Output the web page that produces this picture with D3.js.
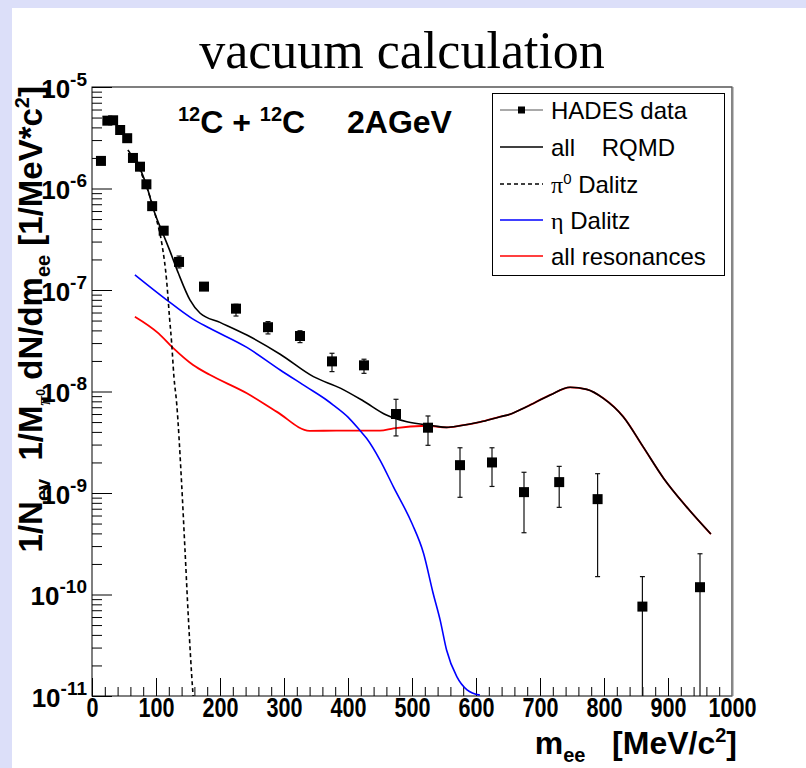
<!DOCTYPE html>
<html>
<head>
<meta charset="utf-8">
<script src="https://cdn.jsdelivr.net/npm/d3@7"></script>
<style>
  html, body { margin: 0; padding: 0; background: #ffffff; }
  svg { display: block; }
</style>
</head>
<body>
<svg id="chart" width="806" height="768"></svg>
<script>
// ---------------- data ----------------
const hadesMass  = [14, 24, 33, 44, 55, 64, 75, 85, 94, 112, 136, 175, 225, 275, 325, 375, 425, 475, 525, 575, 625, 675, 730, 790, 860, 950];
const hadesYield = [1.87e-6, 4.66e-6, 4.7e-6, 3.77e-6, 3.13e-6, 2.0e-6, 1.64e-6, 1.1e-6, 6.7e-7, 3.84e-7, 1.89e-7, 1.08e-7, 6.55e-8, 4.3e-8, 3.52e-8, 1.98e-8, 1.81e-8, 6.0e-9, 4.4e-9, 1.88e-9, 2.0e-9, 1.02e-9, 1.28e-9, 8.7e-10, 7.6e-11, 1.18e-10];
const hadesErrLow  = [1.8e-6, 4.5e-6, 4.55e-6, 3.65e-6, 3.03e-6, 1.93e-6, 1.58e-6, 1.06e-6, 6.4e-7, 3.6e-7, 1.65e-7, 1.0e-7, 5.54e-8, 3.69e-8, 3.03e-8, 1.57e-8, 1.51e-8, 3.65e-9, 2.95e-9, 9.07e-10, 1.16e-9, 4.06e-10, 7.22e-10, 1.5e-10, 1e-12, 1e-12];
const hadesErrHigh = [1.94e-6, 4.82e-6, 4.86e-6, 3.9e-6, 3.24e-6, 2.07e-6, 1.7e-6, 1.14e-6, 7.0e-7, 4.1e-7, 2.16e-7, 1.18e-7, 7.23e-8, 4.88e-8, 3.97e-8, 2.38e-8, 2.08e-8, 8.38e-9, 5.74e-9, 2.79e-9, 2.79e-9, 1.6e-9, 1.83e-9, 1.55e-9, 1.5e-10, 2.52e-10];

const allMass  = [70, 75, 84, 98, 110, 122, 135, 153, 169, 200, 242, 294, 346, 388, 424, 460, 492, 533, 554, 575, 606, 638, 653, 679, 716, 747, 773, 799, 830, 861, 893, 929, 967];
const allYield = [1.9e-6, 1.58e-6, 1.13e-6, 5.74e-7, 3.7e-7, 2.4e-7, 1.46e-7, 8.0e-8, 5.9e-8, 4.8e-8, 3.6e-8, 2.33e-8, 1.4e-8, 1.08e-8, 8.06e-9, 5.86e-9, 5.03e-9, 4.6e-9, 4.43e-9, 4.6e-9, 5.0e-9, 5.65e-9, 5.96e-9, 7.08e-9, 9.25e-9, 1.1e-8, 1.05e-8, 8.57e-9, 5.65e-9, 2.86e-9, 1.4e-9, 7.3e-10, 3.94e-10];

const pi0Mass  = [56, 70, 85, 101, 109, 117, 121, 124.5, 128, 132.3, 140, 145.3, 150.5, 157.3, 158];
const pi0Yield = [2.4e-6, 1.75e-6, 1.05e-6, 4.9e-7, 2.9e-7, 1.16e-7, 5.46e-8, 2.98e-8, 1.4e-8, 7.65e-9, 1.25e-9, 2.75e-10, 6e-11, 1.15e-11, 1e-11];

const etaMass  = [67, 117, 156, 184, 242, 294, 335, 367, 377, 400, 419, 429, 450, 471, 500, 518, 533, 544, 554, 570, 586, 606];
const etaYield = [1.41e-7, 7.96e-8, 5.26e-8, 4.2e-8, 2.72e-8, 1.63e-8, 1.11e-8, 8.2e-9, 7.36e-9, 5.6e-9, 4.11e-9, 3.46e-9, 2.11e-9, 1.15e-9, 5.0e-10, 2.55e-10, 1.03e-10, 5.6e-11, 2.84e-11, 1.55e-11, 1.15e-11, 1.02e-11];

const resMass  = [67, 104, 127, 158, 184, 242, 289, 340, 382, 450, 471, 523, 554, 575, 606, 638, 653, 679, 716, 747, 773, 799, 830, 861, 893, 929, 967];
const resYield = [5.46e-8, 3.74e-8, 2.67e-8, 1.82e-8, 1.46e-8, 9.6e-9, 6.3e-9, 4.1e-9, 4.11e-9, 4.11e-9, 4.34e-9, 4.6e-9, 4.43e-9, 4.6e-9, 5.0e-9, 5.65e-9, 5.96e-9, 7.08e-9, 9.25e-9, 1.1e-8, 1.05e-8, 8.57e-9, 5.65e-9, 2.86e-9, 1.4e-9, 7.3e-10, 3.94e-10];

const xTickValues = [0, 100, 200, 300, 400, 500, 600, 700, 800, 900, 1000];
const yDecadeExponents = [-11, -10, -9, -8, -7, -6, -5];
const legendLabels = ["HADES data", "all    RQMD", "π0 Dalitz", "η Dalitz", "all resonances"];

// ---------------- layout ----------------
const W = 806, H = 768;
const L = 92, R = 732, T = 87, B = 696;
const SANS = "'Liberation Sans', Arial, Helvetica, sans-serif";
const SERIF = "'Liberation Serif', 'Times New Roman', serif";

const svg = d3.select("#chart");

// background
svg.append("rect").attr("x", 0).attr("y", 0).attr("width", W).attr("height", H).attr("fill", "#dcdff9");
svg.append("rect").attr("x", 12).attr("y", 8).attr("width", W - 12).attr("height", H - 8).attr("fill", "#ffffff");

// title
svg.append("text").attr("x", 402).attr("y", 68).attr("text-anchor", "middle")
  .attr("font-family", SERIF).attr("font-size", 52).attr("fill", "#000")
  .text("vacuum calculation");

const x = d3.scaleLinear().domain([0, 1000]).range([L, R]);
const y = d3.scaleLog().domain([1e-11, 1e-5]).range([B, T]);

// clip
svg.append("clipPath").attr("id", "clip").append("rect")
  .attr("x", L).attr("y", T).attr("width", R - L).attr("height", B - T);

// rich text helper
function rich(sel, parts, baseSize, family, weight) {
  sel.attr("font-family", family).attr("font-size", baseSize).attr("font-weight", weight);
  let cur = 0;
  parts.forEach(p => {
    const shift = p.shift || 0;
    const ts = sel.append("tspan").text(p.t).attr("dy", (cur - shift));
    if (p.size) ts.attr("font-size", p.size);
    if (p.family) ts.attr("font-family", p.family);
    if (p.weight) ts.attr("font-weight", p.weight);
    cur = shift;
  });
}

// x axis
const xMinor = d3.range(0, 1001, 20).filter(v => v % 100 !== 0);
svg.append("g").attr("transform", `translate(0,${B})`)
  .call(d3.axisBottom(x).tickValues(xMinor).tickSizeInner(-9).tickSizeOuter(0).tickFormat(""))
  .call(g => g.select(".domain").remove())
  .call(g => g.selectAll("line").attr("stroke", "#000"));
svg.append("g").attr("transform", `translate(0,${B})`)
  .call(d3.axisBottom(x).tickValues(xTickValues).tickSizeInner(-18).tickSizeOuter(0).tickPadding(2).tickFormat(d3.format("d")))
  .call(g => g.select(".domain").remove())
  .call(g => g.selectAll("line").attr("stroke", "#000"))
  .call(g => g.selectAll("text").attr("font-family", SANS).attr("font-size", 27).attr("font-weight", "bold")
    .attr("fill", "#000").attr("transform", "scale(0.8,1)"));

// y axis
const yMinor = [];
yDecadeExponents.slice(0, -1).forEach(e => { for (let k = 2; k <= 9; k++) yMinor.push(k * Math.pow(10, e)); });
svg.append("g").attr("transform", `translate(${L},0)`)
  .call(d3.axisLeft(y).tickValues(yMinor).tickSizeInner(-10).tickSizeOuter(0).tickFormat(""))
  .call(g => g.select(".domain").remove())
  .call(g => g.selectAll("line").attr("stroke", "#000"));
const yMajor = yDecadeExponents.map(e => Math.pow(10, e));
const yAx = svg.append("g").attr("transform", `translate(${L},0)`)
  .call(d3.axisLeft(y).tickValues(yMajor).tickSizeInner(-20).tickSizeOuter(0).tickPadding(5).tickFormat(""))
  .call(g => g.select(".domain").remove())
  .call(g => g.selectAll("line").attr("stroke", "#000"));
yAx.selectAll(".tick text").each(function(d, i) {
  const t = d3.select(this).attr("dy", null).attr("y", 10).attr("fill", "#000");
  rich(t, [{t: "10"}, {t: String(yDecadeExponents[i]), shift: 12, size: 19}], 26, SANS, "bold");
});

// frame
svg.append("rect").attr("x", L).attr("y", T).attr("width", R - L).attr("height", B - T)
  .attr("fill", "none").attr("stroke", "#000").attr("stroke-width", 1);
svg.append("line").attr("x1", R + 0.5).attr("x2", R + 0.5).attr("y1", T).attr("y2", B)
  .attr("stroke", "#888").attr("stroke-width", 2);

// curves
const plot = svg.append("g").attr("clip-path", "url(#clip)");
const lineGen = d3.line().x(d => x(d[0])).y(d => y(Math.max(d[1], 1e-12))).curve(d3.curveMonotoneX);
function curve(xs, ys, color, dash, width) {
  plot.append("path").datum(xs.map((v, i) => [v, ys[i]]))
    .attr("d", lineGen).attr("fill", "none").attr("stroke", color)
    .attr("stroke-width", width).attr("stroke-dasharray", dash || null)
    .attr("stroke-linejoin", "round");
}
curve(resMass, resYield, "#ff0000", null, 1.8);
curve(etaMass, etaYield, "#0000ff", null, 1.6);
curve(pi0Mass, pi0Yield, "#000000", "4,3", 1.6);
curve(allMass, allYield, "#000000", null, 1.6);

// data with error bars
const pts = hadesMass.map((m, i) => ({m, v: hadesYield[i], lo: hadesErrLow[i], hi: hadesErrHigh[i]}));
const eg = plot.append("g").attr("stroke", "#111").attr("stroke-width", 1.2);
pts.forEach(p => {
  const cx = x(p.m);
  eg.append("line").attr("x1", cx).attr("x2", cx).attr("y1", y(Math.max(p.lo, 1e-12))).attr("y2", y(p.hi));
  eg.append("line").attr("x1", cx - 2.5).attr("x2", cx + 2.5).attr("y1", y(p.hi)).attr("y2", y(p.hi));
  if (p.lo >= 1e-11) eg.append("line").attr("x1", cx - 2.5).attr("x2", cx + 2.5).attr("y1", y(p.lo)).attr("y2", y(p.lo));
});
const MS = 10;
plot.selectAll("rect.pt").data(pts).enter().append("rect").attr("class", "pt")
  .attr("x", d => x(d.m) - MS / 2).attr("y", d => y(d.v) - MS / 2)
  .attr("width", MS).attr("height", MS).attr("fill", "#000");

// annotation
rich(svg.append("text").attr("x", 178).attr("y", 133).attr("fill", "#000"), [
  {t: "12", shift: 12, size: 20}, {t: "C + "}, {t: "12", shift: 12, size: 20}, {t: "C"}
], 32, SANS, "bold");
svg.append("text").attr("x", 347).attr("y", 133).attr("fill", "#000")
  .attr("font-family", SANS).attr("font-size", 32).attr("font-weight", "bold").text("2AGeV");

// legend
const lg = svg.append("g");
lg.append("rect").attr("x", 492.5).attr("y", 93.5).attr("width", 232).attr("height", 182)
  .attr("fill", "#fff").attr("stroke", "#000").attr("stroke-width", 1);
const rowY = [110, 147, 184, 220, 256];
const styles = [
  {color: "#555", dash: null, marker: true},
  {color: "#000", dash: null},
  {color: "#000", dash: "4,3"},
  {color: "#0000ff", dash: null},
  {color: "#ff0000", dash: null}
];
legendLabels.forEach((lab, i) => {
  const yy = rowY[i];
  lg.append("line").attr("x1", 500).attr("x2", 543).attr("y1", yy).attr("y2", yy)
    .attr("stroke", styles[i].color).attr("stroke-width", styles[i].marker ? 1 : 1.6)
    .attr("stroke-dasharray", styles[i].dash);
  if (styles[i].marker) lg.append("rect").attr("x", 518).attr("y", yy - 3.5).attr("width", 7).attr("height", 7).attr("fill", "#000");
  const t = lg.append("text").attr("x", 551).attr("y", yy + 8.5).attr("fill", "#000").attr("xml:space", "preserve");
  if (i === 2) {
    rich(t, [{t: "π", family: SERIF}, {t: "0", shift: 9, size: 15}, {t: " Dalitz"}], 24, SANS, "normal");
  } else if (i === 3) {
    rich(t, [{t: "η", family: SERIF}, {t: " Dalitz"}], 24, SANS, "normal");
  } else {
    t.attr("font-family", SANS).attr("font-size", 24).text(lab);
  }
});

// axis titles
rich(svg.append("text").attr("x", 737).attr("y", 754).attr("text-anchor", "end").attr("fill", "#000").attr("xml:space", "preserve"), [
  {t: "m"}, {t: "ee", shift: -8, size: 20}, {t: "   [MeV/c"}, {t: "2", shift: 12, size: 20}, {t: "]"}
], 32, SANS, "bold");

rich(svg.append("text").attr("transform", "translate(42,86) rotate(-90)").attr("text-anchor", "end").attr("fill", "#000").attr("xml:space", "preserve"), [
  {t: "1/N"}, {t: "ev", shift: -8, size: 20}, {t: "  1/M"}, {t: "π", shift: -8, size: 18, family: SERIF},
  {t: "0", shift: -3, size: 12}, {t: " dN/dm"}, {t: "ee", shift: -8, size: 20}, {t: " [1/MeV*c"},
  {t: "2", shift: 13, size: 20}, {t: "]"}
], 33, SANS, "bold");
</script>
</body>
</html>
